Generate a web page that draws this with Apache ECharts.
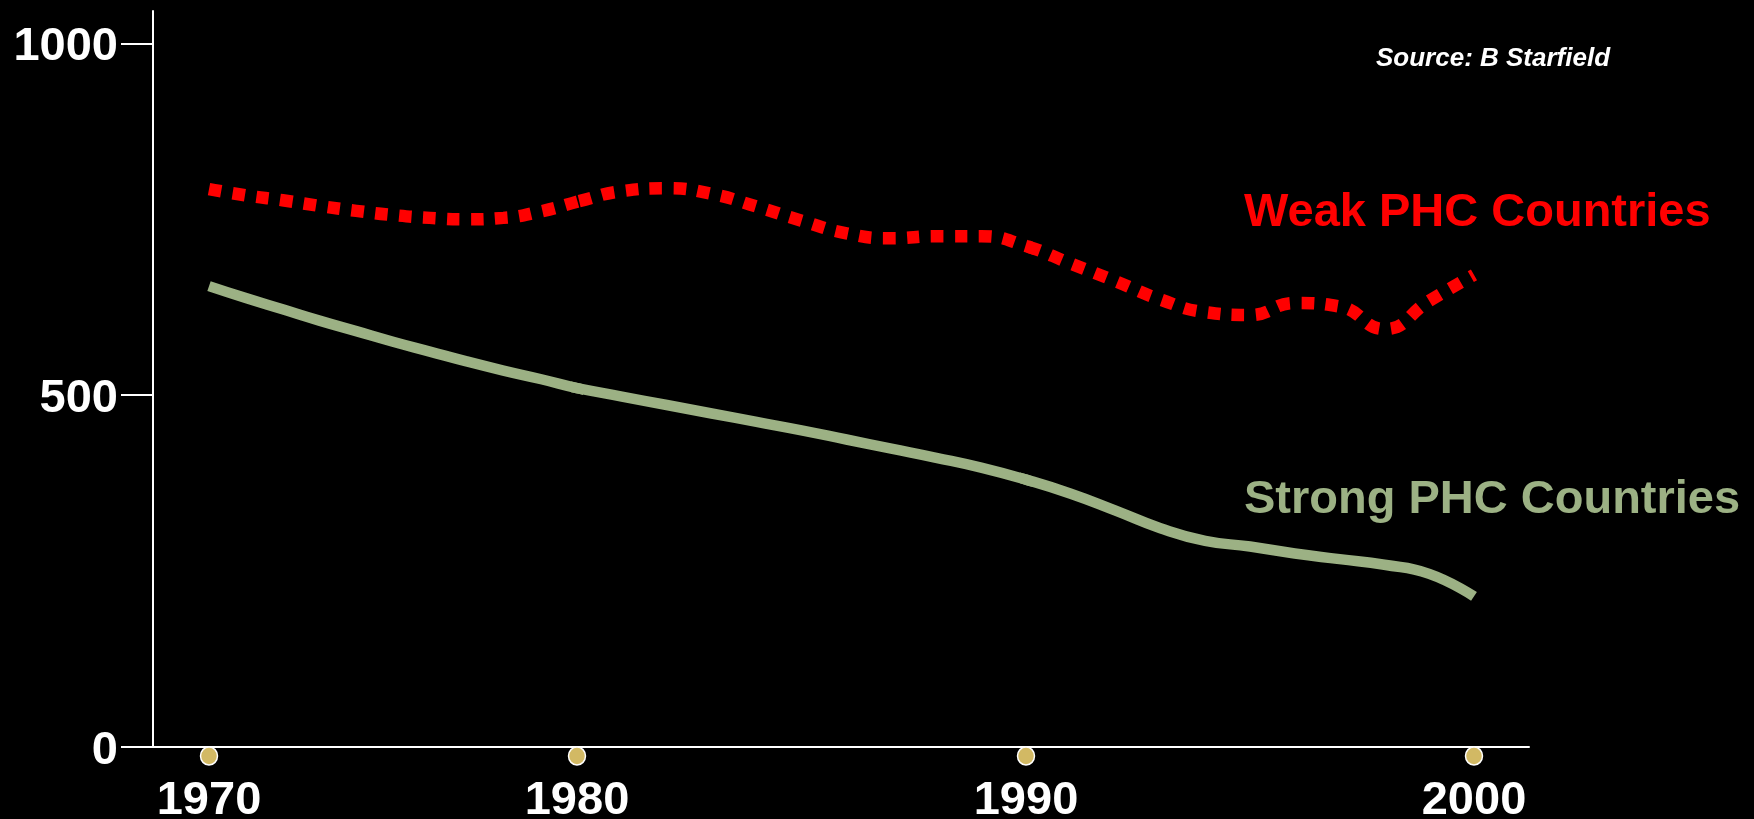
<!DOCTYPE html>
<html>
<head>
<meta charset="utf-8">
<title>PHC Countries</title>
<script src="https://cdn.jsdelivr.net/npm/echarts@6/dist/echarts.min.js"></script>
<style>
  html, body { margin: 0; padding: 0; background: #000; }
  #chart { width: 1754px; height: 819px; }
</style>
</head>
<body>
<div id="chart"></div>
<script>
// Years of the series
const years = [1970, 1971, 1972, 1973, 1974, 1975, 1976, 1977, 1978, 1979,
               1980, 1981, 1982, 1983, 1984, 1985, 1986, 1987, 1988, 1989,
               1990, 1991, 1992, 1993, 1994, 1995, 1996, 1997, 1998, 1999, 2000];

// Weak PHC countries (red dotted line)
const weakPHC = [793, 784, 777, 769, 762, 756, 752, 750, 752, 761,
                 775, 790, 794, 786, 768, 748, 730, 723, 726, 726,
                 712, 687, 662, 636, 618, 614, 631, 626, 594, 634, 671];

// Strong PHC countries (green solid line)
const strongPHC = [655, 638, 622, 606, 591, 576, 562, 548, 535, 523,
                   510, 498, 486, 474, 462, 450, 437, 424, 411, 397,
                   380, 360, 336, 311, 293, 285, 275, 267, 259, 246, 214];

// Tick labels
const xTickYears = [1970, 1980, 1990, 2000];
const yTickValues = [0, 500, 1000];

const FONT = '"Liberation Sans", Arial, Helvetica, sans-serif';
const RED = '#ff0000';
const GREEN = '#9cb184';
const GOLD = '#d2b964';
const Y_MAX = 1046;

// The time axis is laid out decade by decade: each decade gets its own
// panel and x axis, side by side, sharing one vertical scale.
const panels = [
  { left: 153,  right: 1177, min: 1968.478, max: 1980,     labels: [1970] },
  { left: 577,  right: 728,  min: 1980,     max: 1990,     labels: [1980] },
  { left: 1026, right: 225,  min: 1990,     max: 2001.228, labels: [1990, 2000] }
];

// points of a series that fall in a panel, plus one neighbour on each side
// so the smoothed curve runs on continuously across the panel edges
function segment(vals, p) {
  const out = [];
  years.forEach((y, i) => {
    if (y >= Math.floor(p.min) - 1 && y <= Math.ceil(p.max) + 1) out.push([y, vals[i]]);
  });
  return out;
}

const grid = panels.map((p) => ({
  left: p.left, right: p.right, top: 11, bottom: 72,
  containLabel: false,
  outerBoundsMode: 'none'
}));

const xAxis = panels.map((p, k) => ({
  type: 'value',
  gridIndex: k,
  min: p.min,
  max: p.max,
  axisLine: { show: true, onZero: false, lineStyle: { color: '#ffffff', width: 2 } },
  axisTick: { show: false },
  splitLine: { show: false },
  axisLabel: {
    customValues: p.labels,
    color: '#ffffff',
    fontFamily: FONT,
    fontWeight: 'bold',
    fontSize: 47,
    lineHeight: 47,
    margin: 31,
    formatter: (v) => String(v)
  }
}));

const yAxis = panels.map((p, k) => ({
  type: 'value',
  gridIndex: k,
  min: 0,
  max: Y_MAX,
  show: k === 0,
  axisLine: { show: true, lineStyle: { color: '#ffffff', width: 2 } },
  axisTick: {
    show: true,
    customValues: yTickValues,
    length: 32,
    lineStyle: { color: '#ffffff', width: 2 }
  },
  splitLine: { show: false },
  axisLabel: {
    customValues: yTickValues,
    color: '#ffffff',
    fontFamily: FONT,
    fontWeight: 'bold',
    fontSize: 47,
    margin: 35,
    formatter: (v) => '{v|' + v + '}',
    rich: {
      v: {
        color: '#ffffff',
        fontFamily: FONT,
        fontWeight: 'bold',
        fontSize: 47,
        lineHeight: 47,
        padding: [8, 0, 0, 0]
      }
    }
  }
}));

const series = [];
panels.forEach((p, k) => {
  series.push({
    name: 'Weak PHC Countries',
    type: 'line',
    xAxisIndex: k, yAxisIndex: k,
    data: segment(weakPHC, p),
    smooth: 0.5,
    showSymbol: false,
    clip: true,
    lineStyle: { color: RED, width: 12.5, type: [12.5, 11.5], cap: 'butt' },
    z: 3
  });
  series.push({
    name: 'Strong PHC Countries',
    type: 'line',
    xAxisIndex: k, yAxisIndex: k,
    data: segment(strongPHC, p),
    smooth: 0.5,
    showSymbol: false,
    clip: true,
    lineStyle: { color: GREEN, width: 10.5, cap: 'butt' },
    z: 3
  });
  series.push({
    name: 'year markers',
    type: 'scatter',
    xAxisIndex: k, yAxisIndex: k,
    data: p.labels.map((y) => [y, 0]),
    symbol: 'circle',
    symbolSize: [17, 18],
    symbolOffset: [0, 9],
    clip: false,
    itemStyle: { color: GOLD, opacity: 1, borderColor: '#ffffff', borderWidth: 1.5 },
    z: 4
  });
});

const chart = echarts.init(document.getElementById('chart'), null, { renderer: 'canvas' });

chart.setOption({
  backgroundColor: '#000000',
  animation: false,
  grid: grid,
  xAxis: xAxis,
  yAxis: yAxis,
  series: series,
  graphic: [
    {
      type: 'text',
      x: 1376, y: 59,
      style: {
        text: 'Source: B Starfield',
        fill: '#ffffff',
        font: 'italic bold 26px ' + FONT,
        align: 'left',
        verticalAlign: 'middle'
      }
    },
    {
      type: 'text',
      x: 1244, y: 213,
      style: {
        text: 'Weak PHC Countries',
        fill: RED,
        font: 'bold 47px ' + FONT,
        align: 'left',
        verticalAlign: 'middle'
      }
    },
    {
      type: 'text',
      x: 1244, y: 500,
      style: {
        text: 'Strong PHC Countries',
        fill: GREEN,
        font: 'bold 47px ' + FONT,
        align: 'left',
        verticalAlign: 'middle'
      }
    }
  ]
});
</script>
</body>
</html>
